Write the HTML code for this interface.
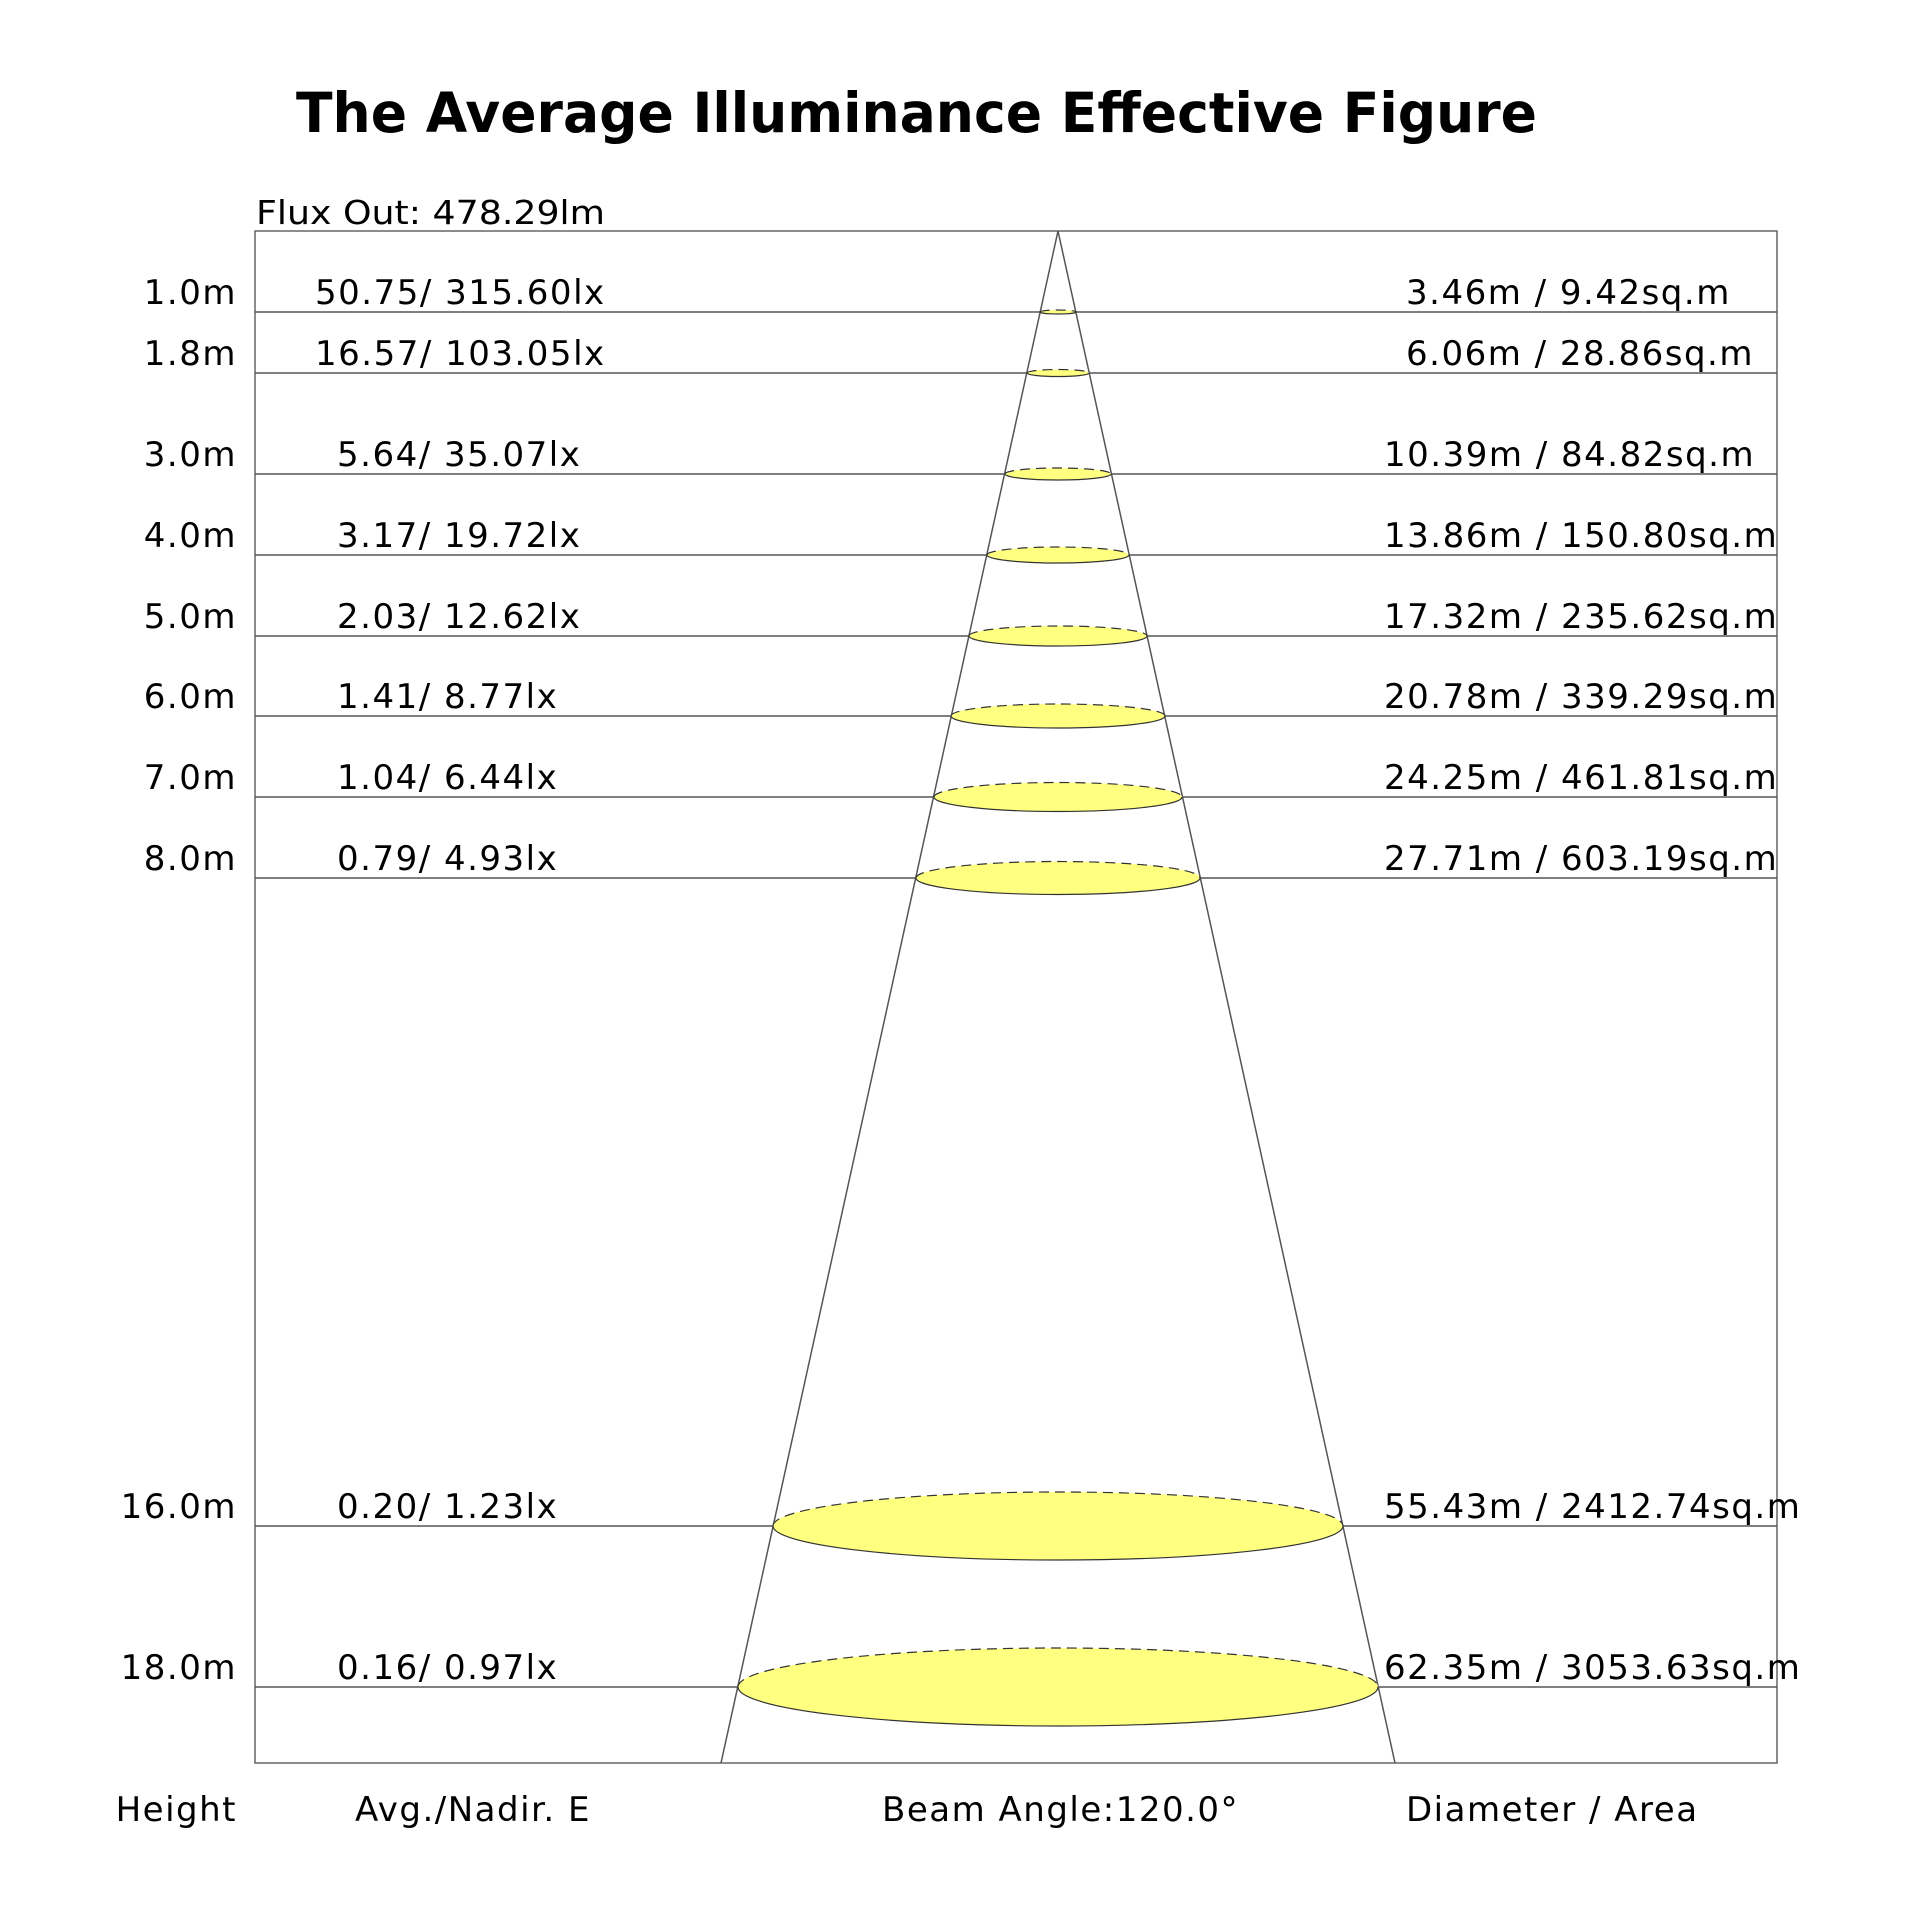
<!DOCTYPE html>
<html><head><meta charset="utf-8"><style>body{margin:0;background:#fff}svg{display:block}</style></head>
<body>
<svg width="1920" height="1920" viewBox="0 0 1920 1920" xmlns="http://www.w3.org/2000/svg" font-family="'DejaVu Sans','Liberation Sans',sans-serif">
<rect width="1920" height="1920" fill="#fff"/>
<text x="296" y="132" font-size="55" font-weight="bold" textLength="1241" lengthAdjust="spacingAndGlyphs">The Average Illuminance Effective Figure</text>
<text x="256" y="224" font-size="33" textLength="349" lengthAdjust="spacingAndGlyphs">Flux Out: 478.29lm</text>
<rect x="255" y="231" width="1522" height="1532" fill="none" stroke="#666" stroke-width="1.5"/>
<g stroke="#555" stroke-width="1.5">
<line x1="255" y1="312" x2="1777" y2="312"/>
<line x1="255" y1="373" x2="1777" y2="373"/>
<line x1="255" y1="474" x2="1777" y2="474"/>
<line x1="255" y1="555" x2="1777" y2="555"/>
<line x1="255" y1="636" x2="1777" y2="636"/>
<line x1="255" y1="716" x2="1777" y2="716"/>
<line x1="255" y1="797" x2="1777" y2="797"/>
<line x1="255" y1="878" x2="1777" y2="878"/>
<line x1="255" y1="1526" x2="1777" y2="1526"/>
<line x1="255" y1="1687" x2="1777" y2="1687"/>
<line x1="1058" y1="231" x2="721" y2="1763"/>
<line x1="1058" y1="231" x2="1395" y2="1763"/>
</g>
<g fill="#ffff80" stroke="none">
<ellipse cx="1058" cy="312" rx="18" ry="2"/>
<ellipse cx="1058" cy="373" rx="31" ry="3.5"/>
<ellipse cx="1058" cy="474" rx="53" ry="6"/>
<ellipse cx="1058" cy="555" rx="71" ry="8"/>
<ellipse cx="1058" cy="636" rx="89" ry="10"/>
<ellipse cx="1058" cy="716" rx="107" ry="12"/>
<ellipse cx="1058" cy="797" rx="124" ry="14.5"/>
<ellipse cx="1058" cy="878" rx="142" ry="16.5"/>
<ellipse cx="1058" cy="1526" rx="285" ry="34"/>
<ellipse cx="1058" cy="1687" rx="320" ry="39"/>
</g>
<g fill="none" stroke="#333" stroke-width="1.2">
<path d="M1040 312 A18 2 0 0 0 1076 312"/>
<path d="M1027 373 A31 3.5 0 0 0 1089 373"/>
<path d="M1005 474 A53 6 0 0 0 1111 474"/>
<path d="M987 555 A71 8 0 0 0 1129 555"/>
<path d="M969 636 A89 10 0 0 0 1147 636"/>
<path d="M951 716 A107 12 0 0 0 1165 716"/>
<path d="M934 797 A124 14.5 0 0 0 1182 797"/>
<path d="M916 878 A142 16.5 0 0 0 1200 878"/>
<path d="M773 1526 A285 34 0 0 0 1343 1526"/>
<path d="M738 1687 A320 39 0 0 0 1378 1687"/>
</g>
<g fill="none" stroke="#333" stroke-width="1.2" stroke-dasharray="10 6">
<path d="M1040 312 A18 2 0 0 1 1076 312"/>
<path d="M1027 373 A31 3.5 0 0 1 1089 373"/>
<path d="M1005 474 A53 6 0 0 1 1111 474"/>
<path d="M987 555 A71 8 0 0 1 1129 555"/>
<path d="M969 636 A89 10 0 0 1 1147 636"/>
<path d="M951 716 A107 12 0 0 1 1165 716"/>
<path d="M934 797 A124 14.5 0 0 1 1182 797"/>
<path d="M916 878 A142 16.5 0 0 1 1200 878"/>
<path d="M773 1526 A285 34 0 0 1 1343 1526"/>
<path d="M738 1687 A320 39 0 0 1 1378 1687"/>
</g>
<g font-size="34" fill="#000" letter-spacing="1.5">
<g text-anchor="end">
<text x="237" y="304">1.0m</text>
<text x="237" y="365">1.8m</text>
<text x="237" y="466">3.0m</text>
<text x="237" y="547">4.0m</text>
<text x="237" y="628">5.0m</text>
<text x="237" y="708">6.0m</text>
<text x="237" y="789">7.0m</text>
<text x="237" y="870">8.0m</text>
<text x="237" y="1518">16.0m</text>
<text x="237" y="1679">18.0m</text>
<text x="237" y="1821">Height</text>
</g>
<text x="315" y="304">50.75/ 315.60lx</text>
<text x="315" y="365">16.57/ 103.05lx</text>
<text x="337" y="466">5.64/ 35.07lx</text>
<text x="337" y="547">3.17/ 19.72lx</text>
<text x="337" y="628">2.03/ 12.62lx</text>
<text x="337" y="708">1.41/ 8.77lx</text>
<text x="337" y="789">1.04/ 6.44lx</text>
<text x="337" y="870">0.79/ 4.93lx</text>
<text x="337" y="1518">0.20/ 1.23lx</text>
<text x="337" y="1679">0.16/ 0.97lx</text>
<text x="355" y="1821">Avg./Nadir. E</text>
<text x="882" y="1821">Beam Angle:120.0°</text>
<text x="1406" y="1821">Diameter / Area</text>
<text x="1406" y="304">3.46m / 9.42sq.m</text>
<text x="1406" y="365">6.06m / 28.86sq.m</text>
<text x="1384" y="466">10.39m / 84.82sq.m</text>
<text x="1384" y="547">13.86m / 150.80sq.m</text>
<text x="1384" y="628">17.32m / 235.62sq.m</text>
<text x="1384" y="708">20.78m / 339.29sq.m</text>
<text x="1384" y="789">24.25m / 461.81sq.m</text>
<text x="1384" y="870">27.71m / 603.19sq.m</text>
<text x="1384" y="1518">55.43m / 2412.74sq.m</text>
<text x="1384" y="1679">62.35m / 3053.63sq.m</text>
</g>
</svg>
</body></html>
